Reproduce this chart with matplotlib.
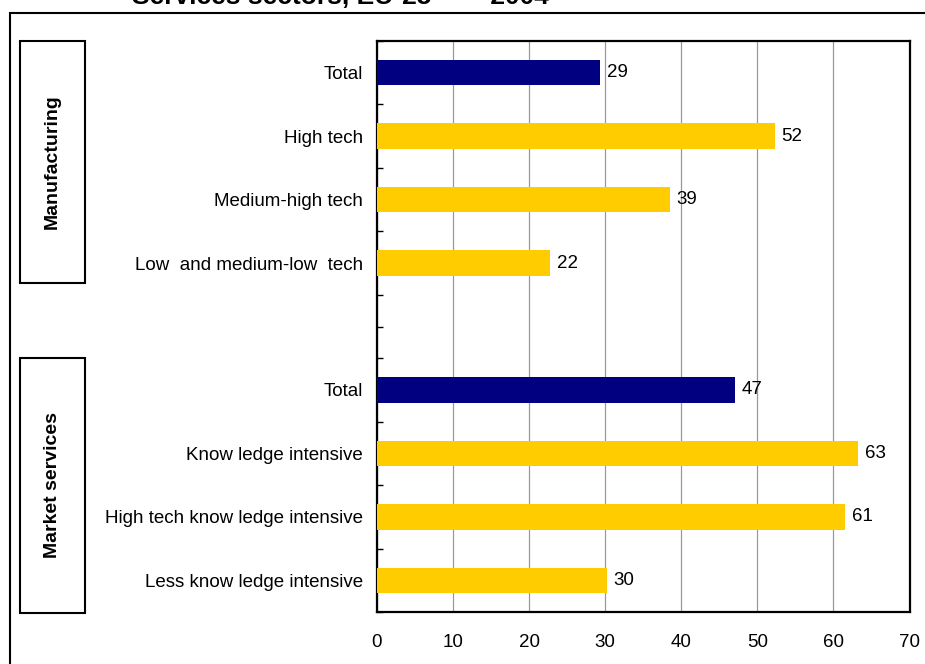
import matplotlib
matplotlib.use("Agg")
import matplotlib.pyplot as plt
from matplotlib.patches import Rectangle
import numpy as np

plt.rcParams['font.family'] = ['Liberation Sans', 'DejaVu Sans']

categories = ["Total", "High tech", "Medium-high tech", "Low  and medium-low  tech", "",
              "Total", "Know ledge intensive", "High tech know ledge intensive",
              "Less know ledge intensive"]
values = [29.3, 52.3, 38.5, 22.7, None, 47.0, 63.2, 61.5, 30.2]
value_labels = ["29", "52", "39", "22", "", "47", "63", "61", "30"]
is_total = [True, False, False, False, False, True, False, False, False]
groups = ["Manufacturing", "Market services"]
xticks = [0, 10, 20, 30, 40, 50, 60, 70]
title = "Services sectors, EU-25        2004"

NAVY = "#000080"
YELLOW = "#FFCC00"
FS = 13.5

W, H = 925, 664
fig = plt.figure(figsize=(W / 100, H / 100), dpi=100)

def fx(px):
    return px / W

def fy(py):
    return 1 - py / H

ax = fig.add_axes([fx(377), fy(612), fx(909.5) - fx(377), fy(41) - fy(612)])

n = len(categories)
ypos = np.arange(n)
for y, v, lab, t in zip(ypos, values, value_labels, is_total):
    if v is None:
        continue
    ax.barh(y, v, height=0.4, color=NAVY if t else YELLOW, zorder=3)
    ax.text(v + 0.9, y, lab, va="center", ha="left", fontsize=FS, zorder=4)

ax.set_ylim(n - 0.5, -0.5)
ax.set_xlim(0, 70)
ax.set_xticks(xticks)
ax.set_xticklabels([str(x) for x in xticks], fontsize=FS)
ax.tick_params(axis="x", length=0, pad=15.5)
ax.xaxis.grid(True, color="#999999", linewidth=0.9, zorder=0)

ax.set_yticks(ypos)
ax.set_yticklabels(categories, fontsize=FS)
ax.set_yticks(np.arange(-0.5, n, 1.0), minor=True)
ax.tick_params(axis="y", which="both", direction="in", length=4, width=1, pad=10)

for s in ax.spines.values():
    s.set_linewidth(1.6)
    s.set_color("black")

# Group boxes
box_ranges = [(41, 283), (358, 613)]
for (top, bot), g in zip(box_ranges, groups):
    r = Rectangle((fx(20), fy(bot)), fx(85) - fx(20), fy(top) - fy(bot),
                  transform=fig.transFigure, fill=False, edgecolor="black",
                  linewidth=1.5)
    fig.patches.append(r)
    fig.text(fx(52.5), fy((top + bot) / 2), g, rotation=90, ha="center",
             va="center", fontsize=14, fontweight="bold")

# Outer frame (extends past right/bottom edges)
frame = Rectangle((fx(10), fy(680)), fx(960) - fx(10), fy(13) - fy(680),
                  transform=fig.transFigure, fill=False, edgecolor="black",
                  linewidth=1.5)
fig.patches.append(frame)

# Title partially cut off at the top (as in the reference)
fig.text(fx(132), fy(4), title, ha="left", va="baseline", fontsize=19,
         fontweight="bold")

fig.savefig("out.png", dpi=100)
